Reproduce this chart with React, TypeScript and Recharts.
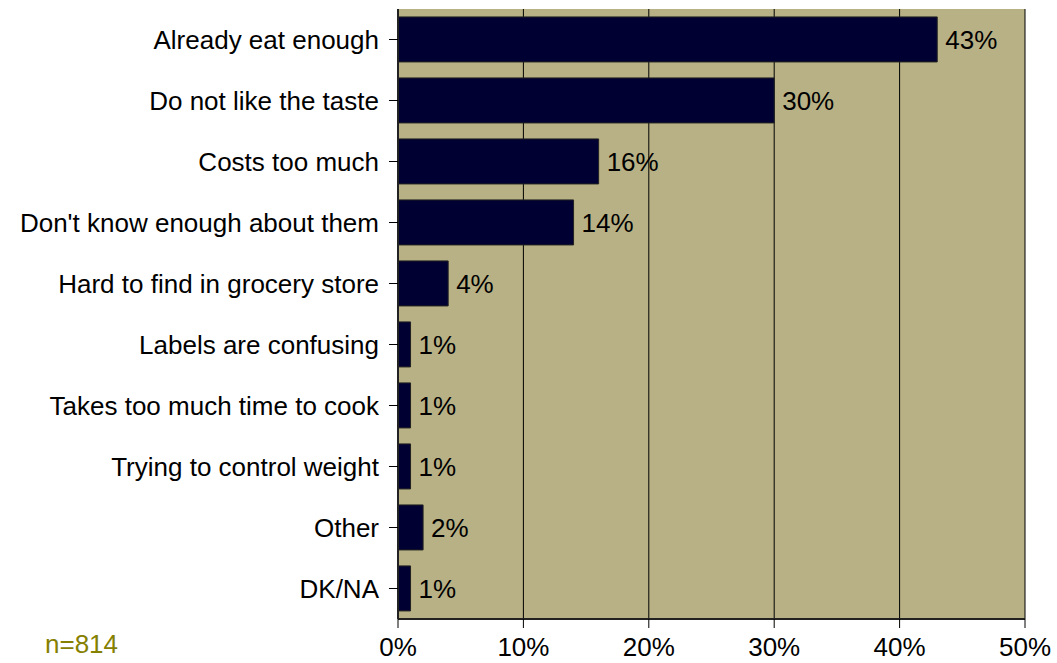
import { BarChart, Bar, XAxis, YAxis, CartesianGrid, LabelList } from 'recharts';

const reasons = [
  'Already eat enough',
  'Do not like the taste',
  'Costs too much',
  "Don't know enough about them",
  'Hard to find in grocery store',
  'Labels are confusing',
  'Takes too much time to cook',
  'Trying to control weight',
  'Other',
  'DK/NA',
];
const shares = [43, 30, 16, 14, 4, 1, 1, 1, 2, 1];
const xTicks = [0, 10, 20, 30, 40, 50];
const sampleNote = 'n=814';

const data = reasons.map((name, i) => ({ name, value: shares[i] }));

const FONT = 'Liberation Sans, Arial, sans-serif';
const PLOT_BG = '#b8b185';
const BAR_FILL = '#000033';

export default function App() {
  return (
    <div style={{ position: 'absolute', left: 0, top: 0, width: 1057, height: 663, background: '#fff', fontFamily: FONT }}>
      <BarChart
        width={1057}
        height={663}
        data={data}
        layout="vertical"
        margin={{ top: 9, right: 32, bottom: 0, left: 0 }}
        barCategoryGap="13%"
      >
        <CartesianGrid horizontal={false} stroke="#000" strokeWidth={1} fill={PLOT_BG} fillOpacity={1} />
        <XAxis
          type="number"
          domain={[0, 50]}
          ticks={xTicks}
          tickFormatter={(v) => `${v}%`}
          height={44}
          tickSize={9}
          tickMargin={10}
          axisLine={{ stroke: '#222', strokeWidth: 2 }}
          tickLine={{ stroke: '#000' }}
          tick={{ fill: '#000', fontSize: 26, fontFamily: FONT }}
        />
        <YAxis
          type="category"
          dataKey="name"
          width={398}
          tickSize={9}
          tickMargin={10}
          axisLine={{ stroke: '#222', strokeWidth: 2 }}
          tickLine={{ stroke: '#000' }}
          tick={{ fill: '#000', fontSize: 26, fontFamily: FONT }}
          interval={0}
        />
        <Bar dataKey="value" fill={BAR_FILL} stroke="#222" strokeWidth={1} isAnimationActive={false}>
          <LabelList
            dataKey="value"
            position="right"
            offset={8}
            formatter={(v: any) => `${v}%`}
            style={{ fill: '#000', fontSize: 26, fontFamily: FONT }}
          />
        </Bar>
      </BarChart>
      <div style={{ position: 'absolute', left: 45, top: 631, fontSize: 26, lineHeight: '26px', color: '#858000', fontFamily: FONT }}>
        {sampleNote}
      </div>
    </div>
  );
}
